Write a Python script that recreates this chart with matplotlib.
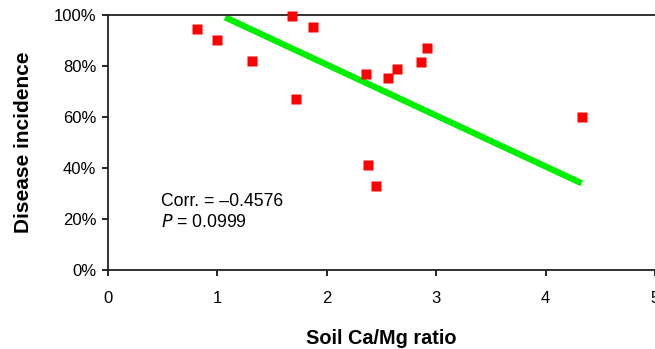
import matplotlib
matplotlib.use("Agg")
import matplotlib.pyplot as plt
from matplotlib.ticker import FuncFormatter

plt.rcParams['font.family'] = ['Liberation Sans', 'DejaVu Sans']

ca_mg = [0.81, 1.00, 1.32, 1.68, 1.72, 1.87, 2.36, 2.38, 2.45, 2.56, 2.64, 2.86, 2.92, 4.33]
incidence = [94.5, 90.2, 82.0, 99.8, 67.0, 95.3, 76.9, 41.0, 33.0, 75.3, 78.8, 81.6, 87.0, 60.0]
trend_x = [1.07, 4.33]
trend_y = [99.1, 34.0]
x_ticks = [0, 1, 2, 3, 4, 5]
y_ticks = [0, 20, 40, 60, 80, 100]

fig = plt.figure(figsize=(6.55, 3.49), dpi=100)
ax = fig.add_axes([108/655, 1-270/349, 547/655, 255/349])

ax.plot(trend_x, trend_y, color='#00ee00', lw=4.5, solid_capstyle='butt', zorder=2)
ax.plot(ca_mg, incidence, ls='none', marker='s', ms=7.3, color='#ff0000', mec='none', zorder=3, clip_on=False)

ax.set_xlim(0, 5)
ax.set_ylim(0, 100)
ax.set_xticks(x_ticks)
ax.set_yticks(y_ticks)
ax.yaxis.set_major_formatter(FuncFormatter(lambda v, p: f"{int(v)}%"))
ax.tick_params(axis='both', direction='out', length=4.3, width=1.2, labelsize=12, color='black')
ax.tick_params(axis='x', pad=10.5)
ax.tick_params(axis='y', pad=4)

for s in ['left', 'bottom', 'top']:
    ax.spines[s].set_linewidth(1.3)
    ax.spines[s].set_color('#222222')
ax.spines['right'].set_visible(False)

ax.set_xlabel('Soil Ca/Mg ratio', fontsize=14.3, fontweight='bold', labelpad=17)
ax.set_ylabel('Disease incidence', fontsize=15, fontweight='bold', labelpad=15)

ax.text(0.48, 27, 'Corr. = \u20130.4576', fontsize=12.7, va='center', ha='left')
ax.text(0.48, 18.5, '$\\mathit{P}$ = 0.0999', fontsize=12.7, va='center', ha='left')

fig.savefig('out.png', dpi=100)
